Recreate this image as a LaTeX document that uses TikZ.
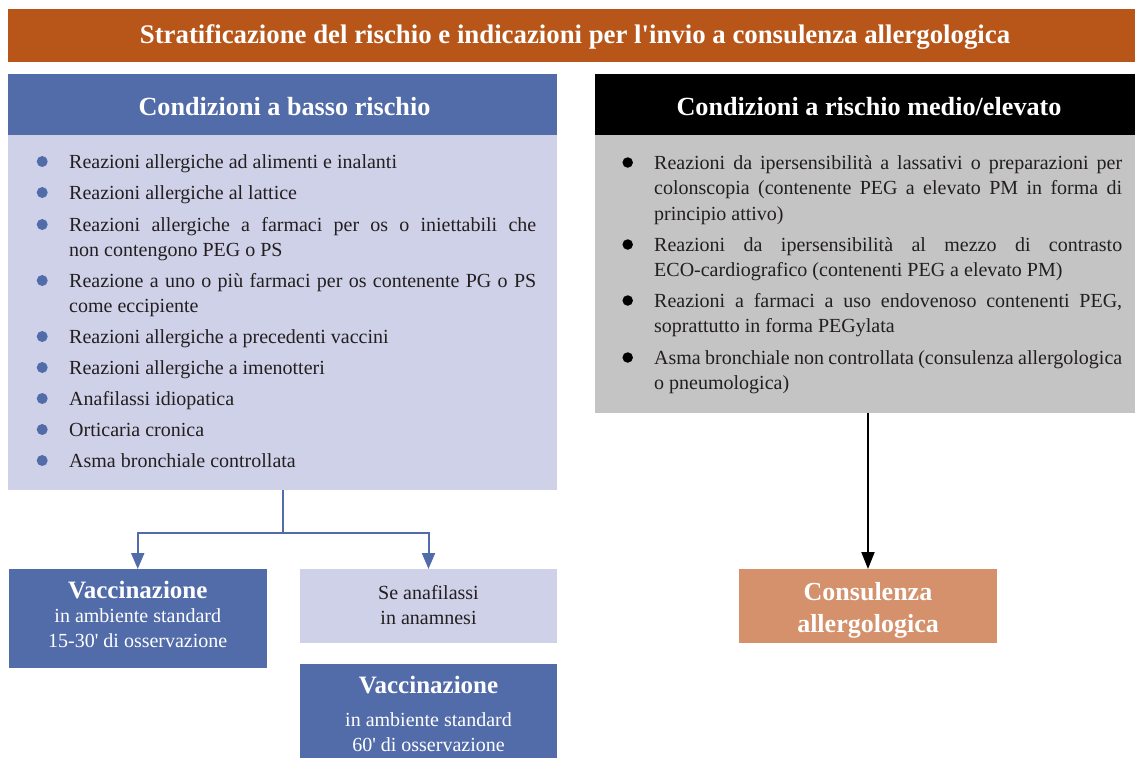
\documentclass[tikz,border=0pt]{standalone}
\usepackage{fontspec}
\setmainfont{Liberation Serif}
\usetikzlibrary{arrows.meta}
\definecolor{rust}{RGB}{184,86,26}
\definecolor{hblue}{RGB}{82,108,169}
\definecolor{lav}{RGB}{206,209,232}
\definecolor{gry}{RGB}{196,196,196}
\definecolor{salmon}{RGB}{212,145,107}
\definecolor{ink}{RGB}{35,31,32}
\tikzset{
  box/.style={anchor=north west, inner sep=0pt, outer sep=0pt, draw=none},
  itemtxt/.style={anchor=base west, inner sep=0pt, text width=467pt, align=justify,
    font=\fontsize{20}{25.6}\selectfont, text=ink},
  lbul/.style={circle, fill=hblue, inner sep=0pt, minimum size=11pt},
  rbul/.style={circle, fill=black, inner sep=0pt, minimum size=10.5pt},
  wtext/.style={anchor=base, inner sep=0pt, text=white},
  btext/.style={anchor=base, inner sep=0pt, text=ink, font=\fontsize{20}{24}\selectfont},
  hfont/.style={font=\fontsize{26.2}{30}\selectfont\bfseries},
  vfont/.style={font=\fontsize{25}{30}\selectfont\bfseries},
  bline/.style={draw=hblue, line width=2pt},
  barrow/.style={draw=hblue, line width=2pt, -{Triangle[width=13pt,length=16pt]}, color=hblue},
  karrow/.style={draw=black, line width=2pt, -{Triangle[width=13pt,length=17pt]}}
}
\begin{document}
\begin{tikzpicture}[x=1pt,y=-1pt]
\useasboundingbox (0,0) rectangle (1135,758);
% boxes
\node[box, fill=rust, minimum width=1127pt, minimum height=53pt] (title) at (8,9) {};
\node[box, fill=hblue, minimum width=549pt, minimum height=61pt] (lhead) at (8,74) {};
\node[box, fill=lav, minimum width=549pt, minimum height=355pt] (lbody) at (8,135) {};
\node[box, fill=black, minimum width=540pt, minimum height=61pt] (rhead) at (595,74) {};
\node[box, fill=gry, minimum width=540pt, minimum height=278pt] (rbody) at (595,135) {};
\node[box, fill=hblue, minimum width=257.5pt, minimum height=99pt] (vac1) at (9,569) {};
\node[box, fill=lav, minimum width=257pt, minimum height=74pt] (anaf) at (300,569) {};
\node[box, fill=hblue, minimum width=257pt, minimum height=94pt] (vac2) at (300,664) {};
\node[box, fill=salmon, minimum width=258pt, minimum height=74pt] (cons) at (739,569) {};
% titles
\node[wtext, font=\fontsize{26.8}{30}\selectfont\bfseries] (ttltext) at (575,43)
  {Stratificazione del rischio e indicazioni per l\textquotesingle invio a consulenza allergologica};
\node[wtext, hfont] (lheadtext) at (284.5,115) {Condizioni a basso rischio};
\node[wtext, hfont] (rheadtext) at (869,115) {Condizioni a rischio medio/elevato};
% left items
\node[lbul] (lb1) at (42.2,161.5) {};
\node[itemtxt] (li1) at (69,168) {Reazioni allergiche ad alimenti e inalanti};
\node[lbul] (lb2) at (42.2,192.5) {};
\node[itemtxt] (li2) at (69,199) {Reazioni allergiche al lattice};
\node[lbul] (lb3) at (42.2,224.5) {};
\node[itemtxt] (li3) at (69,231) {Reazioni allergiche a farmaci per os o iniettabili che\linebreak non contengono PEG o PS};
\node[lbul] (lb4) at (42.2,280.5) {};
\node[itemtxt] (li4) at (69,287) {Reazione a uno o più farmaci per os contenente PG o PS\linebreak come eccipiente};
\node[lbul] (lb5) at (42.2,336.5) {};
\node[itemtxt] (li5) at (69,343) {Reazioni allergiche a precedenti vaccini};
\node[lbul] (lb6) at (42.2,367.5) {};
\node[itemtxt] (li6) at (69,374) {Reazioni allergiche a imenotteri};
\node[lbul] (lb7) at (42.2,398.5) {};
\node[itemtxt] (li7) at (69,405) {Anafilassi idiopatica};
\node[lbul] (lb8) at (42.2,429.5) {};
\node[itemtxt] (li8) at (69,436) {Orticaria cronica};
\node[lbul] (lb9) at (42.2,460.5) {};
\node[itemtxt] (li9) at (69,467) {Asma bronchiale controllata};
% right items
\node[rbul] (rb1) at (627.7,162.5) {};
\node[itemtxt, text width=468pt] (ri1) at (654,169) {Reazioni da ipersensibilità a lassativi o preparazioni per\linebreak colonscopia (contenente PEG a elevato PM in forma di\linebreak principio attivo)};
\node[rbul] (rb2) at (627.7,244.5) {};
\node[itemtxt, text width=468pt] (ri2) at (654,251) {Reazioni da ipersensibilità al mezzo di contrasto\linebreak ECO-cardiografico (contenenti PEG a elevato PM)};
\node[rbul] (rb3) at (627.7,300.5) {};
\node[itemtxt, text width=468pt] (ri3) at (654,307) {Reazioni a farmaci a uso endovenoso contenenti PEG,\linebreak soprattutto in forma PEGylata};
\node[rbul] (rb4) at (627.7,357.5) {};
\node[itemtxt, text width=468pt] (ri4) at (654,364) {Asma bronchiale non controllata (consulenza allergologica\linebreak o pneumologica)};
% bottom box texts
\node[wtext, vfont] (v1a) at (137.75,598) {Vaccinazione};
\node[wtext, font=\fontsize{20}{24}\selectfont] (v1b) at (137.75,622.5) {in ambiente standard};
\node[wtext, font=\fontsize{20}{24}\selectfont] (v1c) at (137.75,647) {15-30\textquotesingle{} di osservazione};
\node[btext] (a1) at (428.5,599) {Se anafilassi};
\node[btext] (a2) at (428.5,624) {in anamnesi};
\node[wtext, vfont] (v2a) at (428.5,693) {Vaccinazione};
\node[wtext, font=\fontsize{20}{24}\selectfont] (v2b) at (428.5,726.5) {in ambiente standard};
\node[wtext, font=\fontsize{20}{24}\selectfont] (v2c) at (428.5,751.5) {60\textquotesingle{} di osservazione};
\node[wtext, font=\fontsize{26}{30}\selectfont\bfseries] (c1) at (868,600) {Consulenza};
\node[wtext, font=\fontsize{26}{30}\selectfont\bfseries] (c2) at (868,632.5) {allergologica};
% connectors
\path (lbody.south) ++(0,43) coordinate (split);
\draw[bline] (lbody.south) -- (split);
\draw[barrow] (split) -| (vac1.north);
\draw[barrow] (split) -| (anaf.north);
\draw[karrow] (rbody.south -| cons.north) -- (cons.north);
\end{tikzpicture}
\end{document}
